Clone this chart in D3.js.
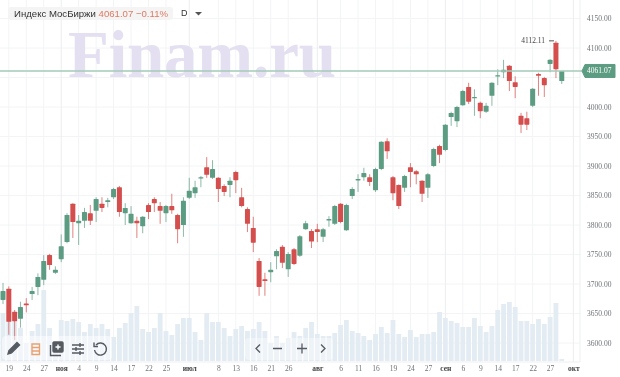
<!DOCTYPE html>
<html>
<head>
<meta charset="utf-8">
<script src="https://cdn.jsdelivr.net/npm/d3@7"></script>
<style>
  html, body { margin: 0; padding: 0; background: #fff; }
  svg { display: block; filter: blur(0.45px); }
  .axis path, .axis line { display: none; }
</style>
</head>
<body>
<svg id="chart" width="620" height="377"></svg>
<script>
// candles (index points, daily)
var opens = [3673,3692,3653,3641,3667,3683,3695,3707,3749,3719,3742,3771,3836,3803,3807,3820,3824,3836,3839,3847,3864,3820,3803,3807,3798,3834,3844,3832,3820,3832,3817,3800,3846,3854,3880,3898,3880,3880,3866,3868,3890,3847,3827,3795,3739,3708,3720,3747,3763,3725,3759,3748,3793,3790,3793,3780,3808,3802,3836,3791,3849,3876,3881,3881,3859,3895,3942,3881,3868,3863,3898,3891,3875,3863,3900,3934,3927,3983,3976,4003,4034,4015,4007,3992,4019,4053,4059,4070,4042,3985,3981,4002,4056,4049,4073,4109,4044];
var highs = [3702,3696,3656,3670,3676,3695,3718,3749,3751,3730,3784,3820,3837,3817,3829,3834,3847,3847,3846,3863,3866,3837,3832,3814,3815,3837,3847,3839,3834,3853,3819,3847,3880,3875,3883,3915,3910,3881,3869,3881,3892,3863,3830,3814,3744,3719,3737,3759,3766,3754,3761,3783,3807,3793,3802,3795,3815,3834,3837,3836,3864,3886,3897,3886,3897,3942,3947,3883,3869,3885,3905,3893,3876,3888,3931,3936,3971,3992,4002,4029,4041,4030,4009,4007,4042,4064,4080,4071,4052,3990,3992,4032,4058,4051,4081,4112,4061];
var lows = [3666,3614,3605,3626,3652,3673,3681,3698,3724,3717,3737,3769,3778,3766,3795,3800,3805,3822,3830,3844,3814,3800,3802,3778,3786,3810,3822,3802,3805,3819,3769,3780,3844,3846,3864,3880,3878,3839,3849,3847,3854,3830,3788,3754,3680,3680,3703,3725,3727,3712,3732,3746,3792,3761,3771,3771,3797,3800,3803,3790,3844,3856,3875,3866,3856,3893,3912,3842,3827,3856,3864,3869,3839,3846,3898,3905,3925,3968,3966,4002,4005,3985,3981,3990,4002,4037,4049,4027,4015,3956,3961,4000,4019,4017,4059,4049,4039];
var closes = [3688,3636,3637,3661,3664,3688,3712,3739,3732,3724,3764,3817,3805,3807,3822,3807,3844,3829,3842,3861,3822,3829,3819,3803,3814,3822,3837,3824,3832,3825,3793,3841,3858,3864,3881,3885,3895,3861,3856,3875,3876,3832,3802,3770,3695,3705,3724,3756,3736,3751,3734,3781,3803,3772,3788,3793,3810,3832,3805,3834,3861,3878,3888,3873,3895,3941,3925,3854,3832,3883,3890,3886,3853,3886,3929,3919,3970,3990,4000,4027,4009,4017,3993,4002,4041,4054,4063,4044,4034,3970,3970,4031,4053,4037,4080,4064,4061.07];

// volumes, no scale in the picture so relative units
var volumes = [48,55,40,33,18,30,37,71,33,15,41,40,42,39,29,37,33,37,32,24,33,38,48,55,32,29,33,48,30,26,37,43,43,29,21,48,39,39,33,25,32,35,30,32,39,30,18,25,18,23,29,25,33,39,27,25,25,28,36,41,30,28,25,21,27,34,28,41,27,24,31,24,27,27,29,49,43,40,38,34,34,43,35,29,35,51,57,59,54,40,40,37,42,37,44,58,2];

// x axis: bar number and what is written there
var tickBars = [1,4,7,10,13,16,19,22,25,28,32,37,40,43,46,49,54,58,61,64,67,70,73,76,79,82,85,88,91,94,98];
var tickLabels = ['19','24','27','ноя','4','9','14','17','22','25','июл','8','13','16','21','26','авг','6','11','16','19','24','27','сен','6','9','14','17','22','27','окт'];
var monthLabels = ['ноя','июл','авг','сен','окт'];

var priceTicks = [4150,4100,4050,4000,3950,3900,3850,3800,3750,3700,3650,3600];
// 4050.00 sits behind the last price label, so it gets a grid line but no text
var priceLabels = [4150,4100,4000,3950,3900,3850,3800,3750,3700,3650,3600];
var lastPrice = 4061.07;
var maxPrice = 4112.11;

var colorUp = '#5c9c82';
var colorDown = '#d34e4c';
var gridColor = '#f3f4f6';

var svg = d3.select('#chart');

/**
 * Scales
 */
var x = d3.scaleLinear().domain([0, 98]).range([3, 573.4]);
var y = d3.scaleLinear().domain([3600, 4150]).range([343, 18.5]);
var v = d3.scaleLinear().domain([0, 60]).range([361, 301]);

/**
 * Grid
 */
svg.append('g').selectAll('line.h')
  .data(priceTicks)
  .enter().append('line')
  .attr('x1', 0).attr('x2', 580)
  .attr('y1', function (d) { return y(d); })
  .attr('y2', function (d) { return y(d); })
  .attr('stroke', gridColor);

svg.append('g').selectAll('line.v')
  .data(tickBars)
  .enter().append('line')
  .attr('x1', function (d) { return x(d); })
  .attr('x2', function (d) { return x(d); })
  .attr('y1', 0).attr('y2', 362)
  .attr('stroke', function (d, i) {
    return monthLabels.indexOf(tickLabels[i]) >= 0 ? '#ebedf0' : gridColor;
  });

svg.append('line')
  .attr('x1', 580).attr('x2', 580).attr('y1', 0).attr('y2', 362)
  .attr('stroke', '#eeeff1');
svg.append('line')
  .attr('x1', 0).attr('x2', 580).attr('y1', 362).attr('y2', 362)
  .attr('stroke', '#eeeff1');

/**
 * Watermark
 */
svg.append('text')
  .text('Finam.ru')
  .attr('x', 68).attr('y', 77)
  .attr('textLength', 268)
  .attr('font-family', '"Liberation Serif", serif')
  .attr('font-weight', 'bold')
  .attr('font-size', 67)
  .attr('fill', '#e4e0f2');

/**
 * Volume bars
 */
svg.append('g').selectAll('rect')
  .data(volumes)
  .enter().append('rect')
  .attr('x', function (d, i) { return x(i) - 2.4; })
  .attr('width', 4.8)
  .attr('y', function (d) { return v(d); })
  .attr('height', function (d) { return v(0) - v(d); })
  .attr('fill', '#e3ebf3');

/**
 * Candles
 */
var candles = svg.append('g').selectAll('g')
  .data(opens)
  .enter().append('g');

function candleColor(i) {
  return closes[i] >= opens[i] ? colorUp : colorDown;
}

candles.append('line')
  .attr('x1', function (d, i) { return x(i); })
  .attr('x2', function (d, i) { return x(i); })
  .attr('y1', function (d, i) { return y(highs[i]); })
  .attr('y2', function (d, i) { return y(lows[i]); })
  .attr('stroke', function (d, i) { return candleColor(i); })
  .attr('stroke-opacity', 0.7)
  .attr('stroke-width', 1);

candles.append('rect')
  .attr('x', function (d, i) { return x(i) - 2.5; })
  .attr('width', 5)
  .attr('y', function (d, i) { return y(Math.max(opens[i], closes[i])); })
  .attr('height', function (d, i) {
    return Math.max(1.4, Math.abs(y(opens[i]) - y(closes[i])));
  })
  .attr('rx', 0.6)
  .attr('fill', function (d, i) { return candleColor(i); });

/**
 * Last price line + label
 */
svg.append('line')
  .attr('x1', 0).attr('x2', 582)
  .attr('y1', y(lastPrice)).attr('y2', y(lastPrice))
  .attr('stroke', '#a3cbb9')
  .attr('stroke-width', 1.4);

// max price note
svg.append('text')
  .text(d3.format('.2f')(maxPrice))
  .attr('x', 545).attr('y', y(maxPrice) + 2.5)
  .attr('text-anchor', 'end')
  .attr('font-family', '"Liberation Serif", serif')
  .attr('font-size', 7.5)
  .attr('fill', '#444');
svg.append('line')
  .attr('x1', 549).attr('x2', 554)
  .attr('y1', y(maxPrice)).attr('y2', y(maxPrice))
  .attr('stroke', '#555');

/**
 * Axes
 */
var yAxis = d3.axisRight(y)
  .tickValues(priceLabels)
  .tickFormat(d3.format('.2f'))
  .tickSize(0)
  .tickPadding(0);

svg.append('g')
  .attr('class', 'axis')
  .attr('transform', 'translate(587,0)')
  .call(yAxis)
  .selectAll('text')
  .attr('font-family', '"Liberation Serif", serif')
  .attr('font-size', 7.5)
  .attr('fill', '#6f7378');

var xAxis = d3.axisBottom(x)
  .tickValues(tickBars)
  .tickFormat(function (d, i) { return tickLabels[i]; })
  .tickSize(0)
  .tickPadding(0);

svg.append('g')
  .attr('class', 'axis')
  .attr('transform', 'translate(0,366)')
  .call(xAxis)
  .selectAll('text')
  .attr('font-family', '"Liberation Serif", serif')
  .attr('font-size', 7.5)
  .attr('font-weight', function (d, i) {
    return monthLabels.indexOf(tickLabels[i]) >= 0 ? 'bold' : null;
  })
  .attr('fill', function (d, i) {
    return monthLabels.indexOf(tickLabels[i]) >= 0 ? '#444' : '#6f7378';
  });

svg.append('path')
  .attr('d', 'M582,' + y(lastPrice) + 'l3,-6.5h30v13h-30z')
  .attr('stroke', '#5c9c82')
  .attr('stroke-width', 1)
  .attr('stroke-linejoin', 'round')
  .attr('fill', '#5c9c82');
svg.append('text')
  .text(d3.format('.2f')(lastPrice))
  .attr('x', 587).attr('y', y(lastPrice) + 2.5)
  .attr('font-family', '"Liberation Serif", serif')
  .attr('font-size', 7.5)
  .attr('fill', '#fff');

/**
 * Title chip
 */
svg.append('rect')
  .attr('x', 8).attr('y', 7).attr('width', 165).attr('height', 13)
  .attr('rx', 3)
  .attr('fill', '#f4f4f4');

var title = svg.append('text')
  .attr('x', 14).attr('y', 16.5)
  .attr('font-family', '"Liberation Sans", sans-serif')
  .attr('font-size', 9.6);
title.append('tspan').text('Индекс МосБиржи ').attr('fill', '#333');
title.append('tspan').text('4061.07 −0.11%').attr('fill', '#de7a62');

svg.append('text')
  .text('D')
  .attr('x', 181).attr('y', 16)
  .attr('font-family', '"Liberation Sans", sans-serif')
  .attr('font-size', 9)
  .attr('fill', '#333');
svg.append('path')
  .attr('d', 'M195,12h7l-3.5,3.5z')
  .attr('fill', '#555');

/**
 * Toolbar, drawn over the chart
 */
svg.append('rect')
  .attr('x', 2).attr('y', 336).attr('width', 110).attr('height', 24)
  .attr('rx', 4)
  .attr('fill', '#fff')
  .attr('fill-opacity', 0.55);
svg.append('rect')
  .attr('x', 245).attr('y', 338).attr('width', 88).attr('height', 22)
  .attr('rx', 4)
  .attr('fill', '#fff')
  .attr('fill-opacity', 0.4);

var iconStroke = '#555b61';
var icons = svg.append('g')
  .attr('fill', 'none')
  .attr('stroke', iconStroke)
  .attr('stroke-width', 1.4);

// pencil
icons.append('path')
  .attr('d', 'M8,354l1,-3.5l8,-8l2.5,2.5l-8,8z')
  .attr('fill', iconStroke);
// list
icons.append('path')
  .attr('d', 'M32,344h7.5v10.5h-7.5zM32,347.5h7.5M32,351h7.5')
  .attr('stroke', '#eba06f');
// plus square
icons.append('path')
  .attr('d', 'M50.5,345v10.5h10.5');
icons.append('rect')
  .attr('x', 53).attr('y', 342).attr('width', 10).attr('height', 10)
  .attr('rx', 1)
  .attr('fill', iconStroke);
icons.append('path')
  .attr('d', 'M58,344.5v5M55.5,347h5')
  .attr('stroke', '#fff');
// sliders
icons.append('path')
  .attr('d', 'M72,345h12M72,349h12M72,353h12');
icons.append('path')
  .attr('d', 'M80,343v4M76,347v4M80,351v4');
// undo
icons.append('path')
  .attr('d', 'M96,345a6,6 0 1 1 -1.5,5');
icons.append('path')
  .attr('d', 'M94,342.5v4h4');

// navigation
icons.append('path')
  .attr('d', 'M260,344.5l-4,4l4,4M273,348.5h9M297,348.5h10M302,343.5v10M321,344.5l4,4l-4,4')
  .attr('stroke-width', 1.3);
</script>
</body>
</html>
